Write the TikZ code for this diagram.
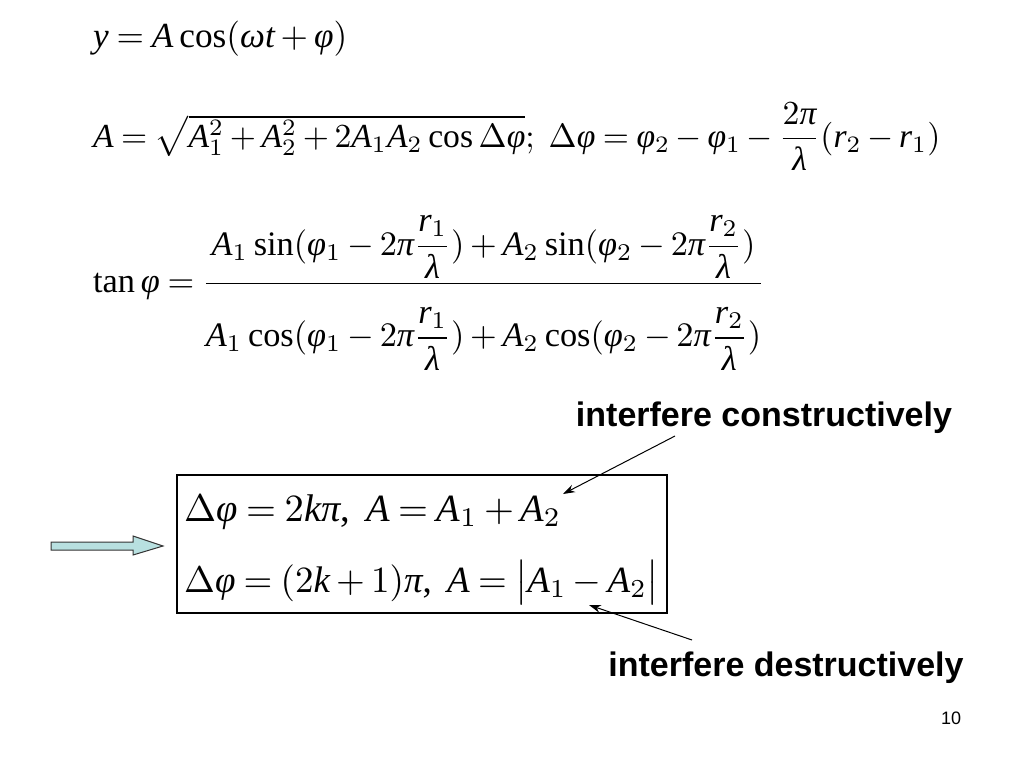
\documentclass[tikz,border=0pt]{standalone}
\usepackage{amsmath}
\usepackage{fontspec}
\setmainfont[NFSSFamily=libser]{Liberation Serif}
\newfontfamily\arialfont{Liberation Sans}
\DeclareSymbolFont{tuit}{TU}{libser}{m}{it}
\DeclareSymbolFont{turm}{TU}{libser}{m}{n}
\def\mapit#1{\Umathcode`#1=7 \symtuit `#1\relax}
\def\maprm#1{\Umathcode`#1=7 \symturm `#1\relax}
\mapit A\mapit k\mapit r\mapit t\mapit y
\maprm 0\maprm 1\maprm 2
\Umathcode`(=4 \symturm `(\relax
\Umathcode`)=5 \symturm `)\relax
\Umathcode`,=6 \symturm `,\relax
\Umathcode`;=6 \symturm `;\relax
\Umathchardef\varphi=0 \symtuit "03C6\relax
\Umathchardef\omega=0 \symtuit "03C9\relax
\Umathchardef\lambda=0 \symtuit "03BB\relax
\Umathchardef\pi=0 \symtuit "03C0\relax
\Umathchardef\Delta=0 \symturm "0394\relax
\usetikzlibrary{arrows.meta}
\definecolor{arrowfill}{RGB}{184,224,224}
\tikzset{
  eq/.style={inner sep=0pt, anchor=base west},
  lbl/.style={inner sep=0pt, font=\arialfont\bfseries\fontsize{34}{40}\selectfont},
  pointer/.style={line width=1pt, -{Stealth[length=12pt,width=8pt]}},
  resultbox/.style={draw, line width=2.5pt, minimum width=490pt, minimum height=138pt, inner sep=0pt},
  blockarrow/.style={draw=black!80, line width=1pt, fill=arrowfill}
}
\begin{document}
\thickmuskip=4mu\medmuskip=3mu
\begin{tikzpicture}[x=1pt,y=-1pt]
\useasboundingbox (0,0) rectangle (1024,768);
\node[eq] (eq1) at (93,47) {\resizebox{254pt}{!}{$y=A\cos(\omega t+\varphi)$}};
\node[eq] (eq2) at (93,147) {\resizebox{847pt}{!}{$A=\sqrt{A_1^2+A_2^2+2A_1A_2\cos\Delta\varphi};\ \Delta\varphi=\varphi_2-\varphi_1-\dfrac{2\pi}{\lambda}(r_2-r_1)$}};
\node[eq] (eq3) at (93,292) {\resizebox{672pt}{!}{$\tan\varphi=\dfrac{A_1\sin(\varphi_1-2\pi\dfrac{r_1}{\lambda})+A_2\sin(\varphi_2-2\pi\dfrac{r_2}{\lambda})}{\rule{0pt}{17pt}A_1\cos(\varphi_1-2\pi\dfrac{r_1}{\lambda})+A_2\cos(\varphi_2-2\pi\dfrac{r_2}{\lambda})}$}};
\node[resultbox] (box) at (422,544) {};
\node[eq] (cond1) at (184,521) {\resizebox{377pt}{!}{$\Delta\varphi=2k\pi,\ A=A_1+A_2$}};
\node[eq] (cond2) at (184,592) {\resizebox{475pt}{!}{$\Delta\varphi=(2k+1)\pi,\ A=\bigl|A_1-A_2\bigr|$}};
\node[lbl] (cons) at (764,418) {interfere constructively};
\node[lbl] (dest) at (786,668) {interfere destructively};
\node[inner sep=0pt, font=\arialfont\fontsize{18}{20}\selectfont] (pg) at (951,718) {10};
\coordinate (consStart) at (675,436);
\coordinate (consEnd) at (563,494);
\coordinate (destStart) at (692,640);
\coordinate (destEnd) at (589,605);
\draw[pointer] (consStart) -- (consEnd);
\draw[pointer] (destStart) -- (destEnd);
\draw[blockarrow] (51,542) -- (133,542) -- (133,536) -- (163,546) -- (133,555) -- (133,550) -- (51,550) -- cycle;
\end{tikzpicture}
\end{document}
